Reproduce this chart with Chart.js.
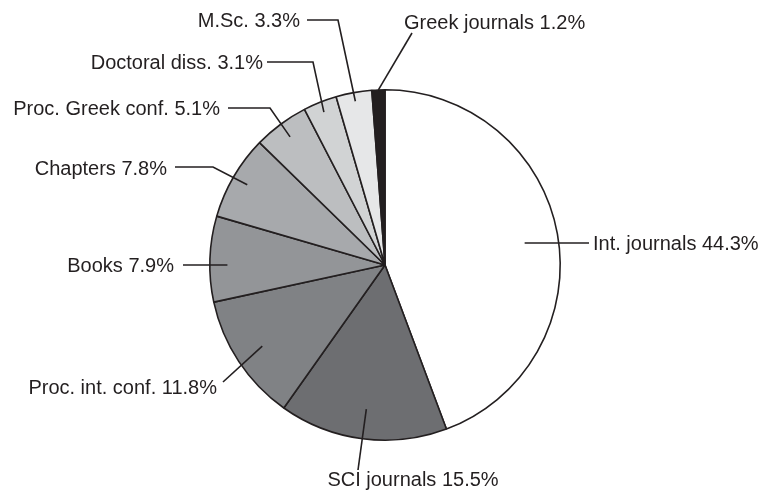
<!DOCTYPE html>
<html>
<head>
<meta charset="utf-8">
<script src="https://cdn.jsdelivr.net/npm/chart.js@4.4.1/dist/chart.umd.min.js"></script>
<style>
  html, body { margin: 0; padding: 0; background: #ffffff; }
  canvas { display: block; }
</style>
</head>
<body>
<canvas id="pie" width="764" height="494"></canvas>
<script>
// Publication types and their share of the total (%)
const categories = [
  'Int. journals', 'SCI journals', 'Proc. int. conf.', 'Books', 'Chapters',
  'Proc. Greek conf.', 'Doctoral diss.', 'M.Sc.', 'Greek journals'
];
const shares = [44.3, 15.5, 11.8, 7.9, 7.8, 5.1, 3.1, 3.3, 1.2];

// Grey ramp for the slices
const sliceColors = [
  '#ffffff', '#6d6e71', '#808285', '#939598', '#a7a9ac',
  '#bcbec0', '#d1d3d4', '#e6e7e8', '#231f20'
];

const ink = '#231f20';

// Callout layout: how far into the slice the leader starts (fraction of radius),
// optional elbow, the leader end, and where the caption sits.
// "flat" leaders run horizontally at the caption's height.
const callouts = [
  { frac: 0.81, flat: true,  elbow: null,       end: [589, 243], text: [593, 243], align: 'left'   },
  { frac: 0.83, flat: false, elbow: null,       end: [358, 470], text: [413, 479], align: 'center' },
  { frac: 0.84, flat: false, elbow: null,       end: [223, 382], text: [217, 387], align: 'right'  },
  { frac: 0.90, flat: true,  elbow: null,       end: [183, 265], text: [174, 265], align: 'right'  },
  { frac: 0.91, flat: false, elbow: [213, 167], end: [175, 167], text: [167, 168], align: 'right'  },
  { frac: 0.91, flat: false, elbow: [270, 108], end: [228, 108], text: [220, 108], align: 'right'  },
  { frac: 0.94, flat: false, elbow: [313, 62],  end: [267, 62],  text: [263, 62],  align: 'right'  },
  { frac: 0.95, flat: false, elbow: [338, 20],  end: [307, 20],  text: [300, 20],  align: 'right'  },
  { frac: 1.00, flat: false, elbow: null,       end: [412, 33],  text: [404, 22],  align: 'left'   }
];

const calloutPlugin = {
  id: 'callouts',
  afterDatasetsDraw(chart) {
    const ctx = chart.ctx;
    const meta = chart.getDatasetMeta(0);
    ctx.save();
    ctx.strokeStyle = ink;
    ctx.lineWidth = 1.6;
    ctx.lineCap = 'butt';
    ctx.lineJoin = 'miter';
    ctx.fillStyle = ink;
    ctx.font = '20px "Liberation Sans", Arial, Helvetica, sans-serif';
    ctx.textBaseline = 'middle';
    meta.data.forEach((arc, i) => {
      const c = callouts[i];
      const p = arc.getProps(['x', 'y', 'startAngle', 'endAngle', 'outerRadius'], true);
      const mid = (p.startAngle + p.endAngle) / 2;
      const r = p.outerRadius * c.frac;
      const sx = p.x + Math.cos(mid) * r;
      const sy = c.flat ? c.end[1] : p.y + Math.sin(mid) * r;
      ctx.beginPath();
      ctx.moveTo(sx, sy);
      if (c.elbow) ctx.lineTo(c.elbow[0], c.elbow[1]);
      ctx.lineTo(c.end[0], c.end[1]);
      ctx.stroke();
      ctx.textAlign = c.align;
      ctx.fillText(categories[i] + ' ' + shares[i].toFixed(1) + '%', c.text[0], c.text[1] + 1);
    });
    ctx.restore();
  }
};

new Chart(document.getElementById('pie'), {
  type: 'pie',
  data: {
    labels: categories,
    datasets: [{
      data: shares,
      backgroundColor: sliceColors,
      borderColor: ink,
      borderWidth: 1.6
    }]
  },
  options: {
    responsive: false,
    animation: false,
    layout: { padding: { left: 209, right: 203, top: 89, bottom: 53 } },
    plugins: {
      legend: { display: false },
      tooltip: { enabled: false }
    }
  },
  plugins: [calloutPlugin]
});
</script>
</body>
</html>
